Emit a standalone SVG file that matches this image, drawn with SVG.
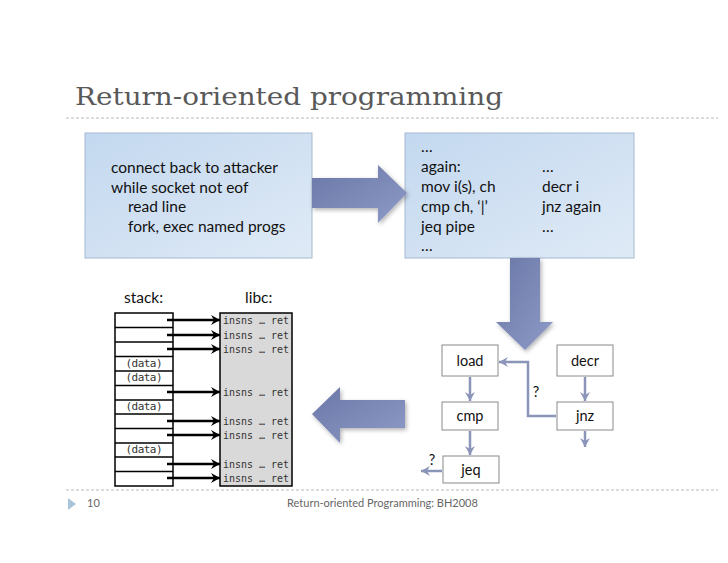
<svg xmlns="http://www.w3.org/2000/svg" width="728" height="563" viewBox="0 0 728 563">
<defs>
<linearGradient id="boxg" x1="0" y1="0" x2="1" y2="1">
<stop offset="0" stop-color="#c3d8ef"/>
<stop offset="1" stop-color="#dfeaf6"/>
</linearGradient>
<linearGradient id="arrg" x1="0" y1="0" x2="1" y2="1">
<stop offset="0" stop-color="#6a78a8"/>
<stop offset="1" stop-color="#8e9ac6"/>
</linearGradient>
<filter id="sh" x="-20%" y="-20%" width="140%" height="140%">
<feDropShadow dx="1.5" dy="2" stdDeviation="2" flood-color="#000" flood-opacity="0.3"/>
</filter>
<marker id="blk" markerWidth="10" markerHeight="10" refX="9" refY="5" orient="auto" markerUnits="userSpaceOnUse">
<path d="M0,0 L9,5 L0,10 L3,5 Z" fill="#000"/>
</marker>
<marker id="flo" markerWidth="10" markerHeight="10" refX="9" refY="5" orient="auto" markerUnits="userSpaceOnUse">
<path d="M0,0 L9,5 L0,10 L3,5 Z" fill="#8b95b9"/>
</marker>
<style>
.title{font-family:"DejaVu Serif","Liberation Serif",serif;font-size:25px;fill:#595959}
.dash{stroke:#b8b8b8;stroke-width:1;stroke-dasharray:3,2;fill:none}
.box{fill:url(#boxg);stroke:#a3b9cf;stroke-width:1}
.bt{font-family:Lato,"Open Sans",sans-serif;font-size:15.5px;fill:#111}
.big{fill:url(#arrg);filter:url(#sh)}
.lab{font-family:Lato,"Open Sans",sans-serif;font-size:15.5px;fill:#111}
.mono{font-family:"DejaVu Sans Mono","Liberation Mono",monospace;font-size:11px;fill:#333}
.stk{fill:#fff;stroke:#000;stroke-width:1.5}
.row{stroke:#000;stroke-width:1.5}
.libc{fill:#d9d9d9;stroke:#000;stroke-width:1.5}
.sa{stroke:#000;stroke-width:2.5;fill:none;marker-end:url(#blk)}
.node{fill:#fff;stroke:#8a8a8a;stroke-width:1}
.nt{font-family:Lato,"Open Sans",sans-serif;font-size:14.5px;fill:#111;text-anchor:middle}
.fc{stroke:#8b95b9;stroke-width:2.5;fill:none;marker-end:url(#flo)}
.foot{font-family:Lato,"Open Sans",sans-serif;font-size:11px;fill:#666}
</style>
</defs>
<rect width="728" height="563" fill="#fff"/>

<text class="title" x="75" y="105" textLength="428" lengthAdjust="spacingAndGlyphs">Return-oriented programming</text>
<line class="dash" x1="66" y1="118" x2="718" y2="118"/>

<g id="srcbox">
<rect class="box" x="85" y="133" width="227" height="125"/>
<text class="bt" x="111" y="173">connect back to attacker</text>
<text class="bt" x="111" y="193">while socket not eof</text>
<text class="bt" x="128" y="212">read line</text>
<text class="bt" x="128" y="232">fork, exec named progs</text>
</g>

<g id="asmbox">
<rect class="box" x="405" y="133" width="229" height="125"/>
<text class="bt" x="421" y="152">…</text>
<text class="bt" x="421" y="172">again:</text>
<text class="bt" x="421" y="192">mov i(s), ch</text>
<text class="bt" x="421" y="212">cmp ch, ‘|’</text>
<text class="bt" x="421" y="232">jeq pipe</text>
<text class="bt" x="421" y="251">…</text>
<text class="bt" x="542" y="172">…</text>
<text class="bt" x="542" y="192">decr i</text>
<text class="bt" x="542" y="212">jnz again</text>
<text class="bt" x="542" y="232">…</text>
</g>

<g id="bigarrows">
<path class="big" d="M312,178 L378,178 L378,165 L407,193 L378,223 L378,208 L312,208 Z"/>
<path class="big" d="M510,258 L540,258 L540,322 L553,322 L525,350 L496,322 L510,322 Z"/>
<path class="big" d="M405,400 L340,400 L340,387 L312,414 L340,443 L340,428 L405,428 Z"/>
</g>

<g id="stack">
<text class="lab" x="124" y="303">stack:</text>
<rect class="stk" x="115" y="313" width="58" height="173"/>
<line class="row" x1="115" y1="327.5" x2="173" y2="327.5"/>
<line class="row" x1="115" y1="342" x2="173" y2="342"/>
<line class="row" x1="115" y1="356.5" x2="173" y2="356.5"/>
<line class="row" x1="115" y1="371" x2="173" y2="371"/>
<line class="row" x1="115" y1="385.5" x2="173" y2="385.5"/>
<line class="row" x1="115" y1="400" x2="173" y2="400"/>
<line class="row" x1="115" y1="414" x2="173" y2="414"/>
<line class="row" x1="115" y1="428.5" x2="173" y2="428.5"/>
<line class="row" x1="115" y1="443" x2="173" y2="443"/>
<line class="row" x1="115" y1="457" x2="173" y2="457"/>
<line class="row" x1="115" y1="471.5" x2="173" y2="471.5"/>
<text class="mono" x="144" y="367" text-anchor="middle" textLength="37">(data)</text>
<text class="mono" x="144" y="381" text-anchor="middle" textLength="37">(data)</text>
<text class="mono" x="144" y="410" text-anchor="middle" textLength="37">(data)</text>
<text class="mono" x="144" y="453" text-anchor="middle" textLength="37">(data)</text>
</g>

<g id="libc">
<text class="lab" x="245" y="303">libc:</text>
<rect class="libc" x="220" y="313" width="72" height="173"/>
<text class="mono" x="223" y="324" textLength="66" lengthAdjust="spacingAndGlyphs">insns … ret</text>
<text class="mono" x="223" y="339" textLength="66" lengthAdjust="spacingAndGlyphs">insns … ret</text>
<text class="mono" x="223" y="353" textLength="66" lengthAdjust="spacingAndGlyphs">insns … ret</text>
<text class="mono" x="223" y="396" textLength="66" lengthAdjust="spacingAndGlyphs">insns … ret</text>
<text class="mono" x="223" y="425" textLength="66" lengthAdjust="spacingAndGlyphs">insns … ret</text>
<text class="mono" x="223" y="439" textLength="66" lengthAdjust="spacingAndGlyphs">insns … ret</text>
<text class="mono" x="223" y="468" textLength="66" lengthAdjust="spacingAndGlyphs">insns … ret</text>
<text class="mono" x="223" y="482" textLength="66" lengthAdjust="spacingAndGlyphs">insns … ret</text>
</g>

<g id="node-load"><rect class="node" x="442" y="345" width="56" height="31"/><text class="nt" x="470" y="366">load</text></g>
<g id="node-decr"><rect class="node" x="557" y="345" width="56" height="31"/><text class="nt" x="585" y="366">decr</text></g>
<g id="node-cmp"><rect class="node" x="442" y="402" width="56" height="28"/><text class="nt" x="470" y="421">cmp</text></g>
<g id="node-jnz"><rect class="node" x="557" y="402" width="56" height="28"/><text class="nt" x="585" y="421">jnz</text></g>
<g id="node-jeq"><rect class="node" x="443" y="456" width="56" height="27"/><text class="nt" x="471" y="475">jeq</text></g>

<g id="connectors">
<line class="sa" x1="167" y1="320" x2="220" y2="320"/>
<line class="sa" x1="167" y1="335" x2="220" y2="335"/>
<line class="sa" x1="167" y1="349" x2="220" y2="349"/>
<line class="sa" x1="167" y1="392" x2="220" y2="392"/>
<line class="sa" x1="167" y1="421" x2="220" y2="421"/>
<line class="sa" x1="167" y1="435" x2="220" y2="435"/>
<line class="sa" x1="167" y1="464" x2="220" y2="464"/>
<line class="sa" x1="167" y1="478" x2="220" y2="478"/>
<line class="fc" x1="470" y1="377" x2="470" y2="401"/>
<line class="fc" x1="470" y1="431" x2="470" y2="455"/>
<line class="fc" x1="585" y1="377" x2="585" y2="401"/>
<line class="fc" x1="585" y1="431" x2="585" y2="447"/>
<path class="fc" d="M556,416 L528,416 L528,362 L499,362"/>
<line class="fc" x1="442" y1="471" x2="421" y2="471"/>
<text class="nt" x="536" y="397">?</text>
<text class="nt" x="432" y="465">?</text>
</g>

<g id="footer">
<line class="dash" x1="66" y1="490" x2="718" y2="490"/>
<path d="M68,498 L76,504 L68,510 Z" fill="#a9c4d8"/>
<text class="foot" x="87" y="507">10</text>
<text class="foot" x="287" y="507">Return-oriented Programming: BH2008</text>
</g>
</svg>
